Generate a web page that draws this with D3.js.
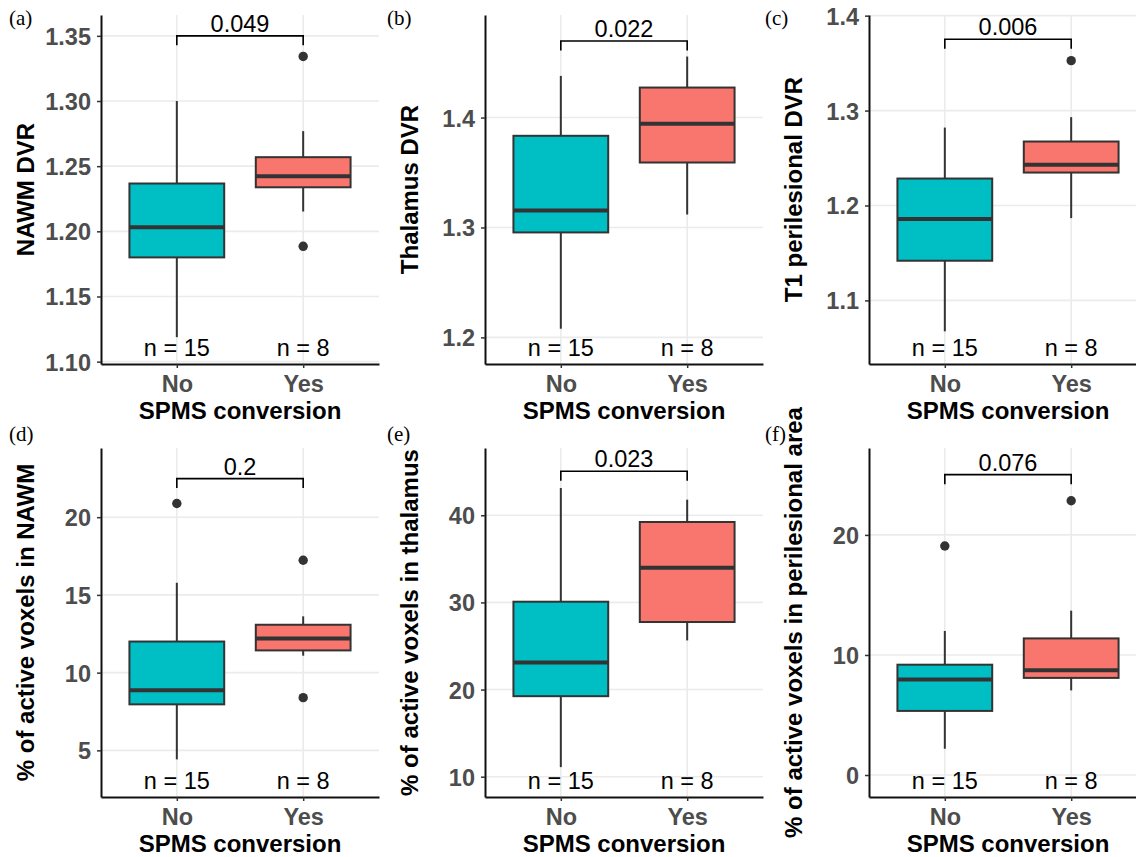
<!DOCTYPE html>
<html>
<head>
<meta charset="utf-8">
<script src="https://cdn.jsdelivr.net/npm/d3@7"></script>
<style>
  body { margin: 0; background: #fff; overflow: hidden; }
  text { font-family: 'Liberation Sans', Arial, sans-serif; }
  text.tag { font-family: 'Liberation Serif', 'Times New Roman', serif; }
</style>
</head>
<body>
<svg id="chart" width="1136" height="857"></svg>
<script>

const groups = ['No', 'Yes']
const counts = [15, 8]
const fills = ['#00BFC4', '#F8766D']

const tags = ['(a)', '(b)', '(c)', '(d)', '(e)', '(f)']
const yTitles = [
    'NAWM DVR',
    'Thalamus DVR',
    'T1 perilesional DVR',
    '% of active voxels in NAWM',
    '% of active voxels in thalamus',
    '% of active voxels in perilesional area'
]
const pValues = ['0.049', '0.022', '0.006', '0.2', '0.023', '0.076']

const yDomains = [
    [1.0982, 1.366],
    [1.1758, 1.4933],
    [1.033, 1.4007],
    [2.0, 24.45],
    [7.67, 47.72],
    [-1.83, 27.24]
]
const yTicks = [
    [1.10, 1.15, 1.20, 1.25, 1.30, 1.35],
    [1.2, 1.3, 1.4],
    [1.1, 1.2, 1.3, 1.4],
    [5, 10, 15, 20],
    [10, 20, 30, 40],
    [0, 10, 20]
]
const yTickLabels = [
    ['1.10', '1.15', '1.20', '1.25', '1.30', '1.35'],
    ['1.2', '1.3', '1.4'],
    ['1.1', '1.2', '1.3', '1.4'],
    ['5', '10', '15', '20'],
    ['10', '20', '30', '40'],
    ['0', '10', '20']
]

// [lower whisker, q1, median, q3, upper whisker]
const noStats = [
    [1.1188, 1.180, 1.2031, 1.2367, 1.300],
    [1.2079, 1.2955, 1.3155, 1.3834, 1.4379],
    [1.0674, 1.1418, 1.1857, 1.2284, 1.2821],
    [4.42, 7.96, 8.86, 12.0, 15.78],
    [11.1, 19.24, 23.1, 30.08, 43.13],
    [2.19, 5.34, 7.95, 9.19, 12.0]
]
const yesStats = [
    [1.2152, 1.2338, 1.2423, 1.2569, 1.2769],
    [1.3118, 1.3591, 1.3943, 1.4273, 1.4555],
    [1.1867, 1.2347, 1.2428, 1.2674, 1.2931],
    [11.09, 11.43, 12.2, 13.08, 13.62],
    [25.64, 27.75, 33.98, 39.23, 41.79],
    [7.05, 8.09, 8.72, 11.38, 13.69]
]
const noOutliers = [[], [], [], [20.88], [], [19.08]]
const yesOutliers = [[1.3342, 1.1885], [], [1.3526], [17.23, 8.39], [], [22.85]]

const bracketY = [1.35, 1.4697, 1.3752, 22.48, 45.05, 25.02]

// layout
const colX = [101, 485, 869]
const rowY = [15, 448]
const plotW = 278
const plotH = 349
const tagX = [9, 387, 765]
const tagY = [25, 441]

const svg = d3.select('#chart')

function drawPanel (i) {

    const col = i % 3
    const row = Math.floor(i / 3)
    const left = colX[col]
    const top = rowY[row]

    const x = d3.scalePoint().domain(groups).range([left, left + plotW]).padding(0.6)
    const y = d3.scaleLinear().domain(yDomains[i]).range([top + plotH, top])
    const bw = x.step() * 0.75

    const g = svg.append('g').attr('class', 'panel')

    // grid
    g.selectAll('.hgrid').data(yTicks[i]).enter()
        .append('line')
        .attr('x1', left).attr('x2', left + plotW)
        .attr('y1', d => y(d)).attr('y2', d => y(d))
        .attr('stroke', '#EBEBEB').attr('stroke-width', 1.6)

    g.selectAll('.vgrid').data(groups).enter()
        .append('line')
        .attr('x1', d => x(d)).attr('x2', d => x(d))
        .attr('y1', top).attr('y2', top + plotH)
        .attr('stroke', '#EBEBEB').attr('stroke-width', 1.6)

    const stats = [noStats[i], yesStats[i]]
    const outliers = [noOutliers[i], yesOutliers[i]]

    groups.forEach((grp, k) => {
        const s = stats[k]
        const cx = x(grp)

        // whiskers
        g.append('line')
            .attr('x1', cx).attr('x2', cx)
            .attr('y1', y(s[0])).attr('y2', y(s[1]))
            .attr('stroke', '#333').attr('stroke-width', 2)
        g.append('line')
            .attr('x1', cx).attr('x2', cx)
            .attr('y1', y(s[3])).attr('y2', y(s[4]))
            .attr('stroke', '#333').attr('stroke-width', 2)

        // box
        g.append('rect')
            .attr('x', cx - bw / 2).attr('width', bw)
            .attr('y', y(s[3])).attr('height', y(s[1]) - y(s[3]))
            .attr('fill', fills[k])
            .attr('stroke', '#333').attr('stroke-width', 2)

        // median
        g.append('line')
            .attr('x1', cx - bw / 2).attr('x2', cx + bw / 2)
            .attr('y1', y(s[2])).attr('y2', y(s[2]))
            .attr('stroke', '#333').attr('stroke-width', 4)

        g.selectAll(null).data(outliers[k]).enter()
            .append('circle')
            .attr('cx', cx).attr('cy', d => y(d))
            .attr('r', 4.7)
            .attr('fill', '#333')

        // n labels
        g.append('text')
            .attr('x', cx).attr('y', y(yDomains[i][0]) - 8)
            .attr('text-anchor', 'middle')
            .attr('font-size', 23.5)
            .attr('fill', '#000')
            .text('n = ' + counts[k])
    })

    // significance bracket
    const by = y(bracketY[i])
    const x0 = x(groups[0])
    const x1 = x(groups[1])
    g.append('path')
        .attr('d', `M${x0},${by + 9.5}V${by}H${x1}V${by + 9.5}`)
        .attr('fill', 'none')
        .attr('stroke', '#000').attr('stroke-width', 1.6)
    g.append('text')
        .attr('x', (x0 + x1) / 2).attr('y', by - 4)
        .attr('text-anchor', 'middle')
        .attr('font-size', 23.5)
        .attr('fill', '#000')
        .text(pValues[i])

    // axes
    const yAxis = d3.axisLeft(y)
        .tickValues(yTicks[i])
        .tickFormat((d, j) => yTickLabels[i][j])
        .tickSize(4).tickSizeOuter(0).tickPadding(6)
    const xAxis = d3.axisBottom(x)
        .tickSize(4).tickSizeOuter(0).tickPadding(6)

    const yg = g.append('g').attr('transform', `translate(${left},0)`).call(yAxis)
    const xg = g.append('g').attr('transform', `translate(0,${top + plotH})`).call(xAxis)

    for (const ag of [yg, xg]) {
        ag.attr('font-family', null).attr('font-size', null)
        ag.select('.domain').attr('stroke', '#111').attr('stroke-width', 2)
        ag.selectAll('.tick line').attr('stroke', '#333').attr('stroke-width', 1.5)
        ag.selectAll('.tick text')
            .attr('font-size', 23.5)
            .attr('font-weight', 'bold')
            .attr('fill', '#4D4D4D')
    }
    yg.selectAll('.tick text').attr('dy', '0.36em')
    xg.selectAll('.tick text').attr('dy', null).attr('y', 27.7)

    // titles
    g.append('text')
        .attr('x', left + plotW / 2).attr('y', top + plotH + 55)
        .attr('text-anchor', 'middle')
        .attr('font-size', 24).attr('font-weight', 'bold')
        .attr('fill', '#000')
        .text('SPMS conversion')

    g.append('text')
        .attr('transform', `translate(${left - 67},${top + plotH / 2}) rotate(-90)`)
        .attr('text-anchor', 'middle')
        .attr('font-size', 24).attr('font-weight', 'bold')
        .attr('fill', '#000')
        .text(yTitles[i])

    g.append('text')
        .attr('class', 'tag')
        .attr('x', tagX[col]).attr('y', tagY[row])
        .attr('font-size', 21)
        .attr('fill', '#000')
        .text(tags[i])
}

d3.range(6).forEach(drawPanel)

</script>
</body>
</html>
